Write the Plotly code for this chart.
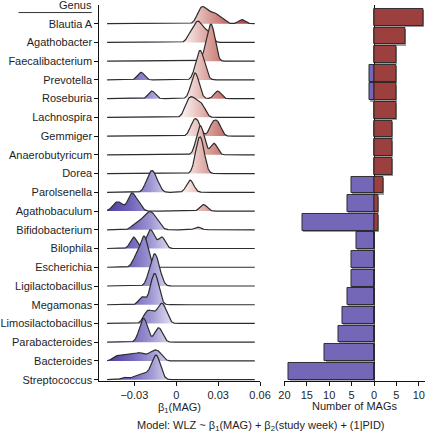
import numpy as np
import plotly.graph_objects as go

# ---------------- data ----------------
genera = ["Blautia A", "Agathobacter", "Faecalibacterium", "Prevotella", "Roseburia",
          "Lachnospira", "Gemmiger", "Anaerobutyricum", "Dorea", "Parolsenella",
          "Agathobaculum", "Bifidobacterium", "Bilophila", "Escherichia",
          "Ligilactobacillus", "Megamonas", "Limosilactobacillus", "Parabacteroides",
          "Bacteroides", "Streptococcus"]

# number of MAGs with positive / negative beta per genus
pos_mags = [11, 7, 5, 5, 5, 5, 4, 4, 4, 2, 1, 1, 0, 0, 0, 0, 0, 0, 0, 0]
neg_mags = [0, 0, 0, 1, 1, 0, 0, 0, 0, 5, 6, 16, 4, 5, 5, 6, 7, 8, 11, 19]

# estimated per-MAG beta_1 values (read from the ridges)
beta_blautia_a = [0.0158, 0.0172, 0.0183, 0.0195, 0.021, 0.0228, 0.0252, 0.0272, 0.0292, 0.033, 0.047]
beta_agathobacter = [0.010, 0.013, 0.015, 0.016, 0.018, 0.021, 0.024]
beta_faecalibacterium = [0.0215, 0.024, 0.025, 0.0255, 0.0265]
beta_prevotella = [-0.0253, 0.0145, 0.016, 0.017, 0.018, 0.020]
beta_roseburia = [-0.0175, 0.0115, 0.013, 0.014, 0.0155, 0.0296]
beta_lachnospira = [0.0075, 0.010, 0.0125, 0.0155, 0.019]
beta_gemmiger = [0.012, 0.0155, 0.026, 0.030]
beta_anaerobutyricum = [0.0155, 0.0172, 0.019, 0.027]
beta_dorea = [0.0148, 0.0162, 0.0176, 0.0192]
beta_parolsenella = [-0.021, -0.0185, -0.0175, -0.016, -0.0135, 0.009, 0.0108]
beta_agathobaculum = [-0.044, -0.040, -0.0335, -0.032, -0.0305, -0.027, 0.0195]
beta_bifidobacterium = [-0.031, -0.0285, -0.0265, -0.025, -0.0235, -0.0222, -0.021, -0.0202,
                        -0.0195, -0.0188, -0.018, -0.0172, -0.0163, -0.0152, -0.014, -0.012, 0.0154]
beta_bilophila = [-0.0306, -0.020, -0.017, -0.0103]
beta_escherichia = [-0.029, -0.025, -0.0235, -0.0225, -0.021]
beta_ligilactobacillus = [-0.019, -0.0165, -0.0155, -0.0145, -0.012]
beta_megamonas = [-0.0245, -0.018, -0.0163, -0.0155, -0.0147, -0.0132]
beta_limosilactobacillus = [-0.022, -0.0195, -0.0165, -0.0125, -0.011, -0.0095, -0.0075]
beta_parabacteroides = [-0.026, -0.0242, -0.0233, -0.0225, -0.0215, -0.0145, -0.0125, -0.011]
beta_bacteroides = [-0.0435, -0.039, -0.035, -0.031, -0.0275, -0.025, -0.021, -0.0175,
                    -0.0155, -0.0135, -0.011]
beta_streptococcus = [-0.037, -0.030, -0.027, -0.0245, -0.022, -0.020, -0.018, -0.017, -0.016,
                      -0.0155, -0.0153, -0.0147, -0.0145, -0.0141, -0.0138, -0.0135, -0.0128,
                      -0.012, -0.011]

beta_by_genus = [beta_blautia_a, beta_agathobacter, beta_faecalibacterium, beta_prevotella,
                 beta_roseburia, beta_lachnospira, beta_gemmiger, beta_anaerobutyricum,
                 beta_dorea, beta_parolsenella, beta_agathobaculum, beta_bifidobacterium,
                 beta_bilophila, beta_escherichia, beta_ligilactobacillus, beta_megamonas,
                 beta_limosilactobacillus, beta_parabacteroides, beta_bacteroides,
                 beta_streptococcus]

beta_ticks = [-0.03, 0, 0.03, 0.06]
beta_tick_labels = ["\u22120.03", "0", "0.03", "0.06"]
bar_ticks = [-20, -15, -10, -5, 0, 5, 10]
bar_tick_labels = ["20", "15", "10", "5", "0", "5", "10"]

# ---------------- styling ----------------
FONT = "Liberation Sans, Arial, sans-serif"
TXT = "#1e1e1e"
W, H = 437, 440
BW = 0.0024          # joint KDE bandwidth
SCALE = 0.01466      # density -> row units
GRID_LO, GRID_HI = -0.0495, 0.0562
RED = "#9B403E"
PURPLE = "#7467B7"

grad = [
    [0.00, "#4D3FA2"],
    [0.14, "#6C61B9"],
    [0.28, "#9D95D2"],
    [0.42, "#E2DFF1"],
    [0.47, "#FAF7F8"],
    [0.55, "#F0D6D3"],
    [0.66, "#D99F9A"],
    [0.80, "#BC625D"],
    [1.00, "#98302F"],
]

grid = np.linspace(GRID_LO, GRID_HI, 600)
n_rows = len(genera)

fig = go.Figure()

for i, vals in enumerate(beta_by_genus):
    base = n_rows - 1 - i
    v = np.asarray(vals)
    dens = np.exp(-0.5 * ((grid[:, None] - v[None, :]) / BW) ** 2).sum(axis=1)
    dens = dens / (len(v) * BW * np.sqrt(2 * np.pi))
    top = base + dens * SCALE
    fig.add_trace(go.Scatter(
        x=np.concatenate([grid, grid[::-1]]),
        y=np.concatenate([top, np.full_like(grid, base)]),
        mode="lines", fill="toself",
        fillgradient=dict(type="horizontal", colorscale=grad, start=GRID_LO, stop=GRID_HI),
        line=dict(width=0), hoverinfo="skip", showlegend=False,
        xaxis="x", yaxis="y"))
    fig.add_trace(go.Scatter(
        x=grid, y=top, mode="lines",
        line=dict(color="#2c2c2c", width=1.2),
        hoverinfo="skip", showlegend=False, xaxis="x", yaxis="y"))

# ---------------- bars ----------------
bar_rows = [n_rows - 1 - i for i in range(n_rows)]
neg_vals = [-n for n in neg_mags]

# soft grey shadow
for vals in (pos_mags, neg_vals):
    fig.add_trace(go.Bar(
        x=vals, y=bar_rows, base=0.28, orientation="h", width=0.9, offset=-0.52,
        marker=dict(color="rgba(120,120,120,0.75)", line=dict(width=0)),
        hoverinfo="skip", showlegend=False, xaxis="x2", yaxis="y2"))

fig.add_trace(go.Bar(
    x=neg_vals, y=bar_rows, orientation="h", width=0.9,
    marker=dict(color=PURPLE, line=dict(color="#222222", width=0.9)),
    showlegend=False, xaxis="x2", yaxis="y2"))
fig.add_trace(go.Bar(
    x=pos_mags, y=bar_rows, orientation="h", width=0.9,
    marker=dict(color=RED, line=dict(color="#222222", width=0.9)),
    showlegend=False, xaxis="x2", yaxis="y2"))

# ---------------- layout ----------------
y_dom = [1 - 385 / H, 1 - 5 / H]
axis_common = dict(showgrid=False, showline=True, linecolor="#111111", linewidth=1.2,
                   ticks="outside", ticklen=4, tickwidth=1, tickcolor="#111111",
                   tickfont=dict(family=FONT, size=11, color=TXT))

fig.update_layout(
    width=W, height=H, margin=dict(l=0, r=0, t=0, b=0),
    paper_bgcolor="white", plot_bgcolor="white",
    barmode="overlay", bargap=0,
    font=dict(family=FONT, size=11, color=TXT),
    xaxis=dict(domain=[97 / W, 264 / W], range=[-0.055, 0.0602],
               tickvals=beta_ticks, ticktext=beta_tick_labels, zeroline=False,
               anchor="y", **axis_common),
    yaxis=dict(domain=y_dom, range=[-0.05, 20.0], tickvals=bar_rows,
               ticktext=genera, zeroline=False, anchor="x", **axis_common),
    xaxis2=dict(domain=[289 / W, 435 / W], range=[-20, 11.4],
                tickvals=bar_ticks, ticktext=bar_tick_labels,
                zeroline=True, zerolinecolor="#111111", zerolinewidth=1.3,
                anchor="y2", **axis_common),
    yaxis2=dict(domain=y_dom, range=[-0.504, 19.66], showticklabels=False,
                showgrid=False, showline=False, zeroline=False, ticks="",
                anchor="x2"),
    showlegend=False,
)

fig.add_annotation(text="Genus", x=72 / W, y=1 - 5 / H, xref="paper", yref="paper",
                   showarrow=False, font=dict(family=FONT, size=11, color=TXT),
                   xanchor="center", yanchor="middle")
fig.add_shape(type="line", xref="paper", yref="paper", x0=13 / W, x1=89 / W,
              y0=1 - 12.7 / H, y1=1 - 12.7 / H, line=dict(color="#333333", width=1))
fig.add_annotation(text="\u03b2<sub>1</sub>(MAG)", x=180.5 / W, y=1 - 404 / H,
                   xref="paper", yref="paper", showarrow=False,
                   font=dict(family=FONT, size=11, color=TXT),
                   xanchor="center", yanchor="top")
fig.add_annotation(text="Number of MAGs", x=362 / W, y=1 - 411 / H,
                   xref="paper", yref="paper", showarrow=False,
                   font=dict(family=FONT, size=11, color=TXT),
                   xanchor="center", yanchor="middle")
fig.add_annotation(text="Model: WLZ ~ \u03b2<sub>1</sub>(MAG) + \u03b2<sub>2</sub>(study week) + (1|PID)",
                   x=265 / W, y=1 - 431 / H, xref="paper", yref="paper", showarrow=False,
                   font=dict(family=FONT, size=11, color=TXT),
                   xanchor="center", yanchor="middle")

fig.write_html("out.html", config={"displayModeBar": False},
               post_script="document.body.style.margin='0';document.body.style.overflow='hidden';")
